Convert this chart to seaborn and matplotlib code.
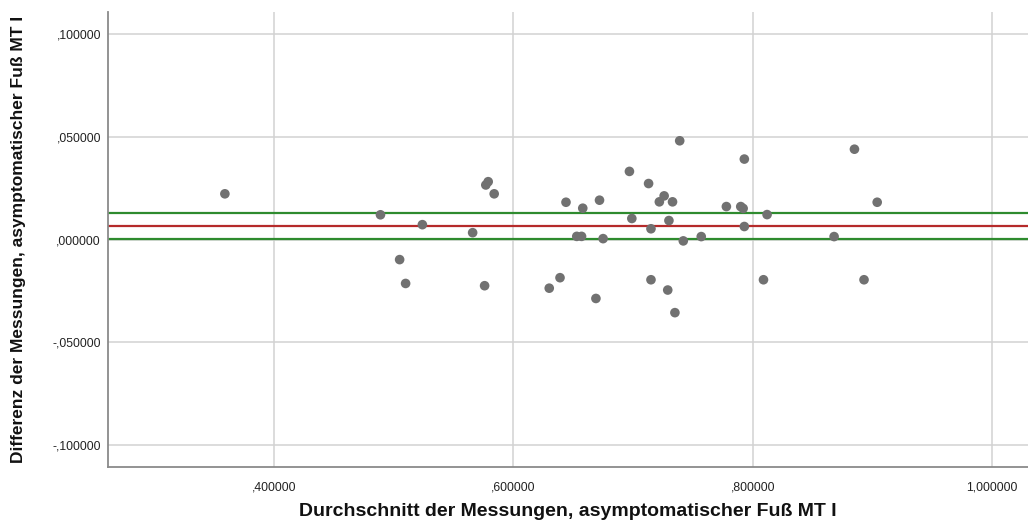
import matplotlib.pyplot as plt
import matplotlib.ticker as mticker
import pandas as pd
import seaborn as sns

# Mean of the two measurements (x) and their difference (y)
mean_values = [
    0.359, 0.489, 0.524, 0.505, 0.510, 0.566, 0.577, 0.579, 0.584, 0.576,
    0.644, 0.658, 0.672, 0.697, 0.713, 0.726, 0.722, 0.733, 0.739, 0.699,
    0.730, 0.715, 0.653, 0.657, 0.675, 0.742, 0.639, 0.630, 0.669, 0.715,
    0.729, 0.735, 0.793, 0.778, 0.790, 0.792, 0.812, 0.793, 0.757, 0.868,
    0.885, 0.904, 0.809, 0.893,
]
diff_values = [
    0.0223, 0.0121, 0.0073, -0.0097, -0.0213, 0.0034, 0.0266, 0.0282, 0.0223, -0.0224,
    0.0182, 0.0153, 0.0192, 0.0332, 0.0273, 0.0213, 0.0184, 0.0184, 0.0481, 0.0103,
    0.0093, 0.0053, 0.0016, 0.0016, 0.0005, -0.0006, -0.0185, -0.0236, -0.0286, -0.0195,
    -0.0245, -0.0355, 0.0392, 0.0161, 0.0161, 0.0152, 0.0122, 0.0064, 0.0015, 0.0015,
    0.0440, 0.0182, -0.0195, -0.0195,
]

# Reference lines: mean difference (red) and limits (green)
mean_diff = 0.0068
limit_lines = [0.0129, 0.0005]

x_ticks = [0.4, 0.6, 0.8, 1.0]
y_ticks = [-0.1, -0.05, 0.0, 0.05, 0.1]

df = pd.DataFrame({"mean": mean_values, "diff": diff_values})

sns.set_style("whitegrid")
plt.rcParams["font.family"] = ["Liberation Sans", "DejaVu Sans"]

fig = plt.figure(figsize=(10.28, 5.25), dpi=100)
ax = fig.add_axes([0.105, 0.11, 0.895, 0.867])

for y in limit_lines:
    ax.axhline(y, color="#2e8b2e", linewidth=1.6, zorder=2)
ax.axhline(mean_diff, color="#b52a2a", linewidth=1.6, zorder=2)

sns.scatterplot(
    data=df, x="mean", y="diff", ax=ax,
    color="#717171", s=48, edgecolor="none", marker="o", zorder=3,
)


def spss_fmt(v, pos):
    s = f"{v:.6f}".replace(".", ",")
    if s.startswith("0,"):
        s = s[1:]
    elif s.startswith("-0,"):
        s = "-" + s[2:]
    return s


ax.set_xlim(0.2613, 1.03)
ax.set_ylim(-0.1107, 0.1107)
ax.set_xticks(x_ticks)
ax.set_yticks(y_ticks)
ax.xaxis.set_major_formatter(mticker.FuncFormatter(spss_fmt))
ax.yaxis.set_major_formatter(mticker.FuncFormatter(spss_fmt))
ax.tick_params(length=0, labelsize=8.8, colors="#222222")
ax.tick_params(axis="y", pad=5)
ax.tick_params(axis="x", pad=10)

ax.grid(color="#d2d2d2", linewidth=1.1)
for side in ["top", "right"]:
    ax.spines[side].set_visible(False)
for side in ["left", "bottom"]:
    ax.spines[side].set_color("#8a8a8a")
    ax.spines[side].set_linewidth(1.3)

ax.set_xlabel("Durchschnitt der Messungen, asymptomatischer Fuß MT I",
              fontsize=14, fontweight="bold", labelpad=7, color="#111111")
ax.set_ylabel("Differenz der Messungen, asymptomatischer Fuß MT I",
              fontsize=12.5, fontweight="bold", labelpad=19, color="#111111")

fig.savefig("out.png", dpi=100, facecolor="white")
